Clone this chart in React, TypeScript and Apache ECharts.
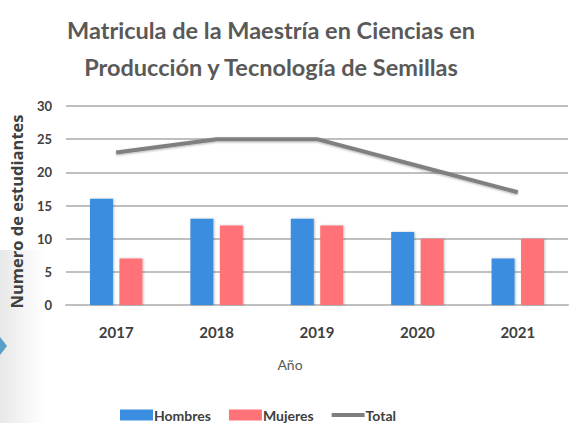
import React, { useEffect, useRef } from "react";
import * as echarts from "echarts";

const years = ["2017", "2018", "2019", "2020", "2021"];
const hombres = [16, 13, 13, 11, 7];
const mujeres = [7, 12, 12, 10, 10];
const total = [23, 25, 25, 21, 17];

export default function App() {
  const ref = useRef<HTMLDivElement>(null);
  useEffect(() => {
    const chart = echarts.init(ref.current!, null, { renderer: "svg" });
    const font = "Lato, 'Open Sans', sans-serif";
    chart.setOption({
      animation: false,
      backgroundColor: "#ffffff",
      textStyle: { fontFamily: font },
      graphic: [
        {
          type: "rect",
          left: 0,
          top: 250,
          shape: { width: 45, height: 173 },
          style: {
            fill: new echarts.graphic.LinearGradient(0, 0, 1, 0, [
              { offset: 0, color: "rgba(0,0,0,0.09)" },
              { offset: 1, color: "rgba(0,0,0,0)" },
            ]),
          },
          z: -10,
        },
        {
          type: "polygon",
          shape: { points: [[0, 337], [7, 346], [0, 355]] },
          style: { fill: "#5a9fc8" },
          z: -9,
        },
      ],
      title: {
        text: "Matricula de la Maestría en Ciencias en\nProducción y Tecnología de Semillas",
        left: 266,
        textAlign: "center",
        top: 6,
        textStyle: { fontSize: 23.5, fontWeight: "bold", color: "#595959", lineHeight: 37, fontFamily: font },
      },
      legend: {
        bottom: -4,
        left: 115,
        itemWidth: 33,
        itemHeight: 11,
        itemGap: 18,
        textStyle: { fontSize: 14, fontWeight: "bold", color: "#404040", padding: [0, 0, 0, -4] },
        data: [
          { name: "Hombres", icon: "rect" },
          { name: "Mujeres", icon: "rect" },
          { name: "Total", icon: "path://M0,0 L33,0 L33,4 L0,4 Z" },
        ],
      },
      grid: { left: 64, right: 1, top: 106, bottom: 118 },
      xAxis: {
        type: "category",
        data: years,
        name: "Año",
        nameLocation: "middle",
        nameGap: 52,
        nameTextStyle: { fontSize: 14, color: "#595959", padding: [0, 54, 0, 0] },
        axisTick: { show: false },
        axisLine: { lineStyle: { color: "#bfbfbf", width: 2 } },
        axisLabel: { fontSize: 15, fontWeight: "bold", color: "#404040", margin: 19 },
      },
      yAxis: {
        type: "value",
        min: 0,
        max: 30,
        interval: 5,
        name: "Numero de estudiantes",
        nameLocation: "middle",
        nameGap: 41,
        nameTextStyle: {
          fontSize: 16.5,
          fontWeight: "bold",
          color: "#404040",
          fontFamily: "'Open Sans', sans-serif",
          padding: [0, 12, 0, 0],
        },
        axisLabel: { fontSize: 13, fontWeight: "bold", color: "#404040", margin: 14 },
        splitLine: { lineStyle: { color: "#bfbfbf", width: 2 } },
      },
      series: [
        {
          name: "Hombres",
          type: "bar",
          data: hombres,
          barWidth: 23,
          barGap: "28%",
          itemStyle: { color: "#3b8de0", shadowColor: "rgba(0,0,0,0.25)", shadowBlur: 2, shadowOffsetX: 1, shadowOffsetY: 0 },
        },
        {
          name: "Mujeres",
          type: "bar",
          data: mujeres,
          barWidth: 23,
          itemStyle: { color: "#ff7378", shadowColor: "rgba(0,0,0,0.25)", shadowBlur: 2, shadowOffsetX: 1, shadowOffsetY: 0 },
        },
        {
          name: "Total",
          type: "line",
          data: total,
          symbol: "none",
          itemStyle: { color: "#7f7f7f" },
          lineStyle: { color: "#808080", width: 4, shadowColor: "rgba(0,0,0,0.3)", shadowBlur: 2, shadowOffsetY: 1 },
        },
      ],
    });
    return () => chart.dispose();
  }, []);
  return <div ref={ref} style={{ width: 569, height: 423, position: "absolute", left: 0, top: 0 }} />;
}
